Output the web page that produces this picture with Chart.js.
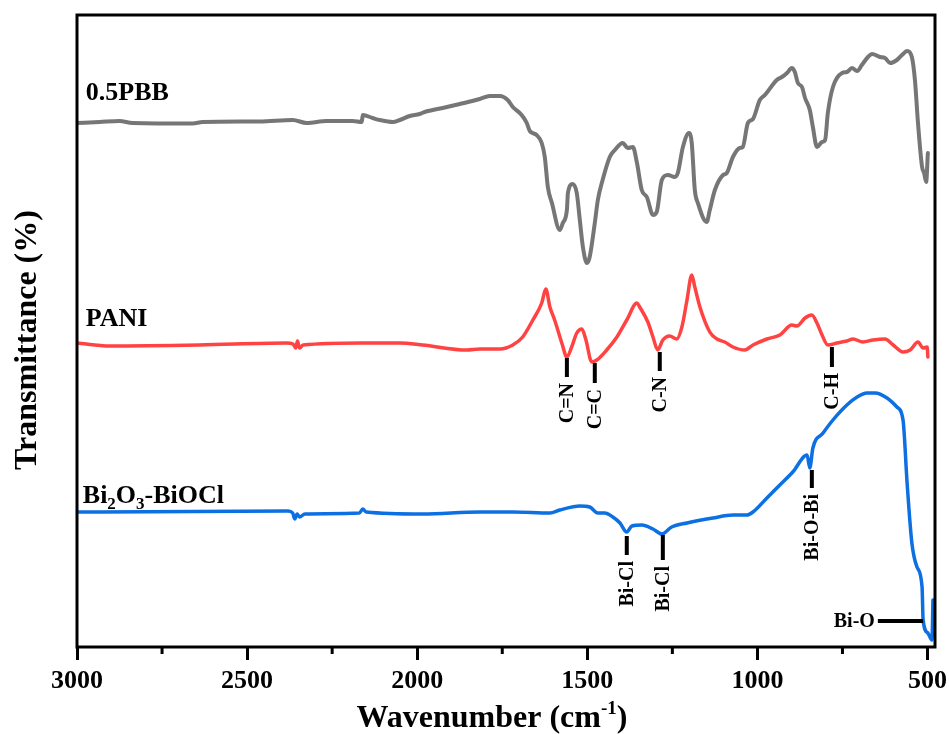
<!DOCTYPE html>
<html>
<head>
<meta charset="utf-8">
<script src="https://cdn.jsdelivr.net/npm/chart.js@4.4.1/dist/chart.umd.min.js"></script>
<style>
html,body{margin:0;padding:0;background:#fff;}
#c{display:block;}
</style>
</head>
<body>
<canvas id="c" width="949" height="734"></canvas>
<script>
// ---- data (wavenumber in cm-1, transmittance in arbitrary offset units) ----
const pbbWn = [3000,2934,2875,2837,2660,2631,2463,2366,2325,2266,2190,2163,2160,2131,2110,2072,2051,2022,1993,1978,1925,1875,1816,1787,1757,1734,1719,1693,1678,1669,1649,1634,1625,1616,1604,1581,1572,1560,1557,1543,1531,1522,1513,1501,1493,1478,1469,1455,1434,1419,1396,1381,1366,1354,1340,1325,1307,1296,1281,1263,1243,1234,1219,1201,1193,1184,1175,1149,1140,1125,1101,1090,1072,1052,1043,1028,1013,993,978,943,928,913,899,890,881,869,860,846,837,825,810,801,793,778,751,737,722,707,693,675,663,640,625,610,590,575,560,546,537,528,516,510,504,499];
const pbbT = [524,525,526,524,523.5,525,525.5,527,524,526,526,525,532,529,527,525,527,531,533,535,539,543,548,551,551,547,540,532,524,516,512,504,490,460,444,417,424,437,454,463,454,427,400,384,390,424,447,467,490,497,504,499,500,484,457,450,432,435,467,472,470,474,500,514,504,457,444,425,437,457,472,474,490,499,500,524,528,547,552,567,570,574,579,575,564,560,549,537,520,500,505,507,534,560,574,575,579,576,582,590,593,590,589,584,587,592,596,590,567,524,480,474,465,494];

const paniWn = [3000,2904,2640,2384,2365,2357,2352,2346,2335,2160,2051,1984,1854,1816,1757,1719,1690,1660,1634,1622,1610,1596,1575,1560,1546,1531,1516,1504,1487,1472,1443,1413,1384,1354,1346,1322,1307,1293,1278,1258,1237,1222,1207,1193,1184,1169,1140,1119,1096,1072,1037,1013,972,934,899,884,860,840,825,810,793,766,737,719,690,660,625,601,572,551,528,513,501,499];
const paniT = [304,301,302,304,303,299,306,299,302,304,304,302,297,298,298,302,310,327,344,358,340,327,304,290,300,314,318,307,285,287,297,310,327,344,340,325,310,297,307,311,308,320,347,372,360,340,315,308,305,300,297,302,308,312,322,321,329,332,324,312,302,304,306,308,305,307,308,302,295,297,305,299,300,290];

const biWn = [3000,2934,2380,2366,2360,2353,2346,2330,2170,2160,2150,1984,1816,1719,1610,1581,1522,1493,1469,1449,1425,1404,1384,1369,1340,1307,1281,1252,1207,1131,1072,1031,1013,972,934,896,854,846,837,807,778,737,707,678,654,619,590,572,560,546,531,516,513,499,487,484];
const biT = [135,135,136,134,128,133,130,133,134,138,135,133,135,135,134,137,141,140,134,134,130,124,115,121,122,118,113,120,124,129,132,132,135,149,162,175,192,179,199,214,227,242,250,254,254,249,240,227,164,104,80,60,27,14,7,47];

const xTicks = [3000,2500,2000,1500,1000,500];
const xMinorTicks = [2750,2250,1750,1250,750];

// peak assignments: label, wavenumber, marker top / bottom (transmittance units)
const peakLabels = ['C=N','C=C','C-N','C-H','Bi-Cl','Bi-Cl','Bi-O-Bi'];
const peakWn     = [1560,1478,1287,781,1384,1278,840];
const peakTop    = [289,284,295,300,111,112,177];
const peakBottom = [270,264,276,280,92,87,159];
const biOLabel = 'Bi-O';
const biOWn = [646,513];
const biOT = 26;

// series names and label anchors (wavenumber, transmittance)
const seriesNames = ['0.5PBB','PANI','Bi2O3-BiOCl'];
const seriesLabelWn = [2974,2974,2983];
const seriesLabelT = [547,321,144];

const toXY = (wn, t) => wn.map((w, i) => ({x: w, y: t[i]}));

const SERIF = '"Liberation Serif","Times New Roman",serif';

const annoPlugin = {
  id: 'anno',
  afterDraw(chart) {
    const {ctx, chartArea: a, scales: {x, y}} = chart;
    ctx.save();
    // frame
    ctx.strokeStyle = '#000';
    ctx.lineWidth = 3;
    ctx.strokeRect(a.left, a.top, a.right - a.left, a.bottom - a.top);
    // minor ticks
    ctx.lineWidth = 3;
    xMinorTicks.forEach(v => {
      const px = x.getPixelForValue(v);
      ctx.beginPath();
      ctx.moveTo(px, a.bottom);
      ctx.lineTo(px, a.bottom + 7);
      ctx.stroke();
    });
    // peak markers
    ctx.fillStyle = '#000';
    ctx.lineWidth = 4;
    ctx.font = 'bold 20px ' + SERIF;
    peakLabels.forEach((lab, i) => {
      const px = x.getPixelForValue(peakWn[i]);
      const yt = y.getPixelForValue(peakTop[i]);
      const yb = y.getPixelForValue(peakBottom[i]);
      ctx.beginPath();
      ctx.moveTo(px, yt);
      ctx.lineTo(px, yb);
      ctx.stroke();
      ctx.save();
      ctx.translate(px, yb + 6);
      ctx.rotate(-Math.PI / 2);
      ctx.textAlign = 'right';
      ctx.textBaseline = 'middle';
      ctx.fillText(lab, 0, 1);
      ctx.restore();
    });
    // Bi-O horizontal marker
    const bx1 = x.getPixelForValue(biOWn[0]);
    const bx2 = x.getPixelForValue(biOWn[1]);
    const by = y.getPixelForValue(biOT);
    ctx.beginPath();
    ctx.moveTo(bx1, by);
    ctx.lineTo(bx2, by);
    ctx.stroke();
    ctx.textAlign = 'right';
    ctx.textBaseline = 'middle';
    ctx.fillText(biOLabel, bx1 - 3, by + 1);

    // series names
    ctx.textAlign = 'left';
    ctx.textBaseline = 'alphabetic';
    const big = 'bold 26px ' + SERIF;
    const small = 'bold 17px ' + SERIF;
    for (let i = 0; i < 2; i++) {
      ctx.font = big;
      ctx.fillText(seriesNames[i], x.getPixelForValue(seriesLabelWn[i]), y.getPixelForValue(seriesLabelT[i]));
    }
    // Bi2O3-BiOCl with subscripts
    let cx = x.getPixelForValue(seriesLabelWn[2]);
    const cy = y.getPixelForValue(seriesLabelT[2]);
    const parts = [['Bi', big, 0], ['2', small, 6], ['O', big, 0], ['3', small, 6], ['-BiOCl', big, 0]];
    parts.forEach(([t, f, dy]) => {
      ctx.font = f;
      ctx.fillText(t, cx, cy + dy);
      cx += ctx.measureText(t).width;
    });

    // x title with superscript
    const title1 = 'Wavenumber (cm';
    const sup = '-1';
    const title2 = ')';
    const tf = 'bold 32px ' + SERIF;
    const sf = 'bold 19px ' + SERIF;
    ctx.font = tf;
    const w1 = ctx.measureText(title1).width;
    const w3 = ctx.measureText(title2).width;
    ctx.font = sf;
    const w2 = ctx.measureText(sup).width;
    let tx = 492 - (w1 + w2 + w3) / 2;
    const ty = 727;
    ctx.font = tf; ctx.fillText(title1, tx, ty); tx += w1;
    ctx.font = sf; ctx.fillText(sup, tx, ty - 13); tx += w2;
    ctx.font = tf; ctx.fillText(title2, tx, ty);

    // y title
    ctx.save();
    ctx.translate(28, 340);
    ctx.rotate(-Math.PI / 2);
    ctx.font = 'bold 32px ' + SERIF;
    ctx.textAlign = 'center';
    ctx.textBaseline = 'middle';
    ctx.fillText('Transmittance (%)', 0, 0);
    ctx.restore();
    ctx.restore();
  }
};

const lineDs = (label, data, color, width) => ({
  label, data, borderColor: color, borderWidth: width, pointRadius: 0,
  fill: false, tension: 0.3, cubicInterpolationMode: 'monotone', borderJoinStyle: 'round', borderCapStyle: 'round'
});

new Chart(document.getElementById('c'), {
  type: 'line',
  data: {
    datasets: [
      lineDs(seriesNames[0], toXY(pbbWn, pbbT), '#767676', 4),
      lineDs(seriesNames[1], toXY(paniWn, paniT), '#ff4242', 3.5),
      lineDs(seriesNames[2], toXY(biWn, biT), '#0c6fe2', 3.5)
    ]
  },
  options: {
    responsive: false,
    animation: false,
    devicePixelRatio: 1,
    layout: {padding: {left: 77, top: 15, right: 14, bottom: 0}},
    plugins: {legend: {display: false}, tooltip: {enabled: false}},
    scales: {
      x: {
        type: 'linear', reverse: true, min: 478, max: 3000,
        afterBuildTicks: s => { s.ticks = xTicks.map(v => ({value: v})); },
        afterFit: s => { s.height = 87; s.paddingLeft = 0; s.paddingRight = 0; },
        ticks: {
          font: {family: SERIF, size: 26, weight: 'bold'}, color: '#000',
          padding: 6, maxRotation: 0, autoSkip: false,
          callback: v => String(v)
        },
        grid: {drawOnChartArea: false, tickLength: 13, tickWidth: 3, tickColor: '#000'},
        border: {display: false}
      },
      y: {display: false, min: 0, max: 632}
    }
  },
  plugins: [annoPlugin]
});
</script>
</body>
</html>
